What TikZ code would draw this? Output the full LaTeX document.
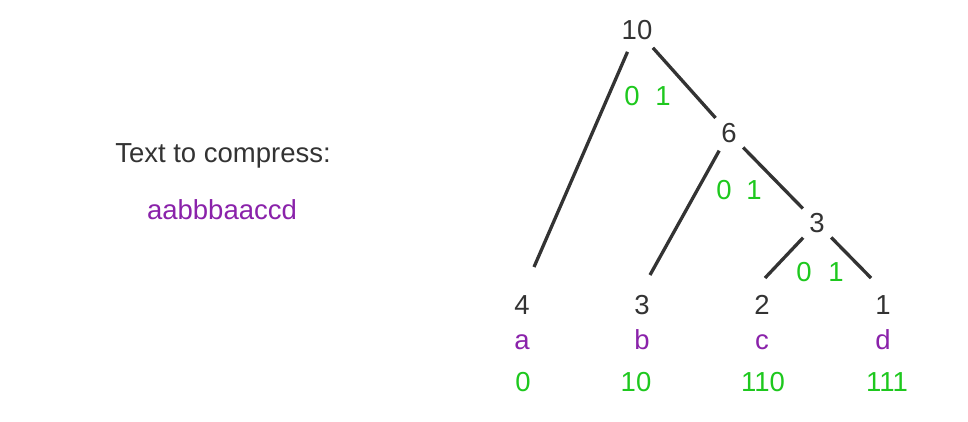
\documentclass[tikz,border=0pt]{standalone}
\usepackage{fontspec}
\setmainfont{Liberation Sans}
\usepackage{tikz}
\usetikzlibrary{positioning}
\definecolor{darktext}{HTML}{333333}
\definecolor{codegreen}{HTML}{1EC81E}
\definecolor{letterpurple}{HTML}{8A22AA}
\newcommand{\bigfont}{\fontsize{27.5}{32}\selectfont}

\begin{document}
\begin{tikzpicture}[x=1pt,y=-1pt,
		weight/.style={circle,minimum size=40pt,inner sep=4pt,text=darktext,font=\bigfont},
		leaf/.style={anchor=base,text=darktext,font=\bigfont},
		letter/.style={anchor=base,text=letterpurple,font=\bigfont},
		code/.style={anchor=base,text=codegreen,font=\bigfont},
		edge/.style={draw=darktext,line width=3.3pt}]
		\useasboundingbox (0,0) rectangle (968,422);
		% text to compress
		\node[leaf] (title) at (223,163) {Text to compress:};
		\node[letter] (input) at (222,219) {aabbbaaccd};
		% inner nodes
		\node[weight] (n10) at (637,30) {10};
		\node[weight] (n6) at (729,133) {6};
		\node[weight] (n3) at (817,223) {3};
		% leaves
		\node[leaf] (w4) at (522,314) {4};
		\node[leaf] (w3) at (642,314) {3};
		\node[leaf] (w2) at (762,314) {2};
		\node[leaf] (w1) at (883,314) {1};
		\node[letter] (la) at (522,349) {a};
		\node[letter] (lb) at (642,349) {b};
		\node[letter] (lc) at (762,349) {c};
		\node[letter] (ld) at (883,349) {d};
		\node[code] (ca) at (523,391) {0};
		\node[code] (cb) at (636,391) {10};
		\node[code] (cc) at (763,391) {110};
		\node[code] (cd) at (887,391) {111};
		% edge ends above the leaves
		\coordinate (e4) at (534,267);
		\coordinate (e3) at (650,275);
		\coordinate (e2) at (765,278);
		\coordinate (e1) at (871,278);
		\draw[edge] (n10) -- (e4);
		\draw[edge] (n10) -- (n6);
		\draw[edge] (n6) -- (e3);
		\draw[edge] (n6) -- (n3);
		\draw[edge] (n3) -- (e2);
		\draw[edge] (n3) -- (e1);
		% bits
		\node[code] (b10l) at (632,106) {0};
		\node[code] (b10r) at (663,106) {1};
		\node[code] (b6l) at (724,199) {0};
		\node[code] (b6r) at (754,199) {1};
		\node[code] (b3l) at (804,281) {0};
		\node[code] (b3r) at (836,281) {1};
\end{tikzpicture}
\end{document}
